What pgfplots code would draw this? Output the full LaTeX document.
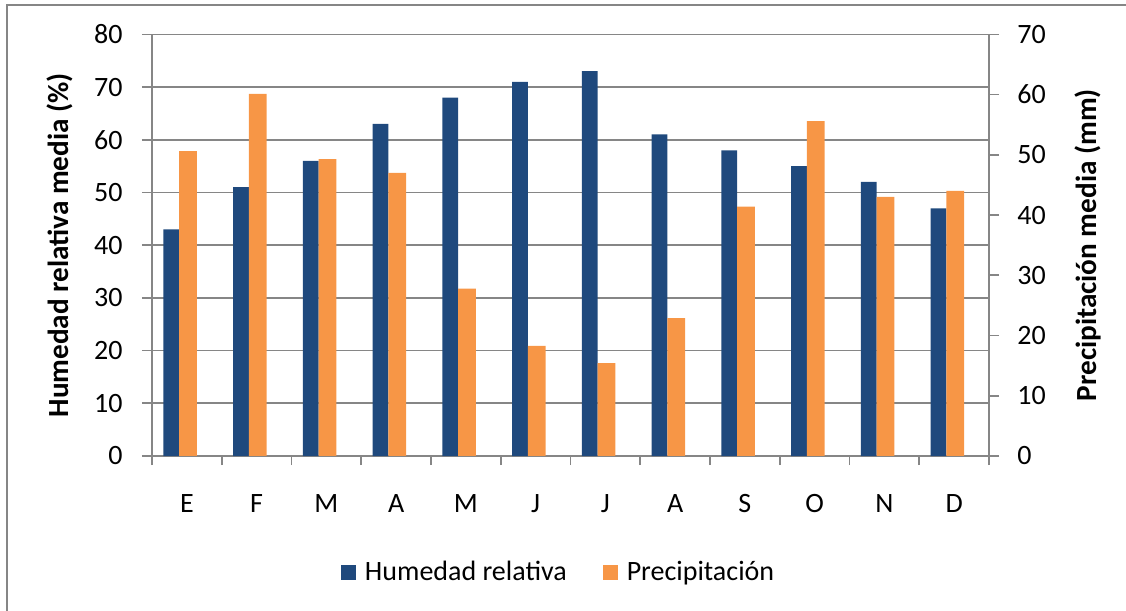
\documentclass[border=0pt]{standalone}
\usepackage{pgfplots}
\pgfplotsset{compat=1.18}
\usepackage{fontspec}
\setmainfont{Carlito}

\definecolor{humblue}{RGB}{31,73,125}
\definecolor{precorange}{RGB}{247,150,70}
\definecolor{axisgray}{RGB}{134,134,134}

\newcommand{\chartfont}{\fontsize{14}{16}\selectfont}
\newcommand{\labelfont}{\fontsize{14.6}{17}\selectfont\bfseries}

\pgfplotsset{
  sqlegend/.style={legend image code/.code={\fill[##1,/tikz/.cd] (0pt,-3.75pt) rectangle (7.5pt,3.75pt);}},
  common/.style={
    width=418.5pt, height=210.85pt, scale only axis,
    xmin=-0.5, xmax=11.5, ymin=0,
    tick align=outside,
    major tick length=5pt,
    axis line style={-, draw=axisgray, line width=0.8pt},
    every tick/.style={axisgray, line width=0.8pt},
    ticklabel style={font=\chartfont},
    /pgf/number format/assume math mode=true,
    label style={font=\labelfont},
  },
}

\begin{document}
\begin{tikzpicture}
% left axis: relative humidity, grid, month categories, legend
\begin{axis}[common, name=main,
  ymax=80, ytick={0,10,...,80},
  axis x line*=bottom, axis y line*=left,
  ymajorgrids, grid style={axisgray, line width=0.8pt},
  xtick={0,...,11},
  xticklabels={E,F,M,A,M,J,J,A,S,O,N,D},
  major x tick style={draw=none},
  minor xtick={-0.5,0.5,...,11.5},
  minor tick length=4.5pt,
  xticklabel style={anchor=base, yshift=-23pt},
  yticklabel style={anchor=east, inner sep=0pt, xshift=-9.5pt},
  ylabel={Humedad relativa media (\%)},
  ylabel style={at={(axis description cs:-0.1,0.5)}, anchor=base},
  legend columns=2,
  legend cell align=left,
  legend style={at={(axis description cs:0.2258,-0.2751)}, anchor=west,
    draw=none, fill=none, inner sep=0pt, outer sep=0pt, font=\chartfont,
    nodes={inner sep=0pt},
    /tikz/every odd column/.append style={column sep=4.5pt},
    /tikz/every even column/.append style={column sep=18pt}},
]
\addplot[ybar, bar width=7.8pt, bar shift=-7.8pt, fill=humblue, draw=none, sqlegend]
  coordinates {(0,43) (1,51) (2,56) (3,63) (4,68) (5,71) (6,73) (7,61) (8,58) (9,55) (10,52) (11,47)};
\addlegendentry{Humedad relativa}
\addlegendimage{fill=precorange, draw=none, sqlegend}
\addlegendentry{Precipitación}
\end{axis}

% right axis: mean precipitation
\begin{axis}[common,
  ymax=70, ytick={0,10,...,70},
  axis y line*=right, axis x line=none,
  yticklabel style={anchor=west, inner sep=0pt, xshift=9pt},
  ylabel={Precipitación media (mm)},
  ylabel style={at={(axis description cs:1.1287,0.5)}, anchor=base},
]
\addplot[ybar, bar width=8.85pt, bar shift=0.525pt, fill=precorange, draw=none]
  coordinates {(0,50.6) (1,60.1) (2,49.3) (3,47.0) (4,27.8) (5,18.3) (6,15.4) (7,22.9) (8,41.4) (9,55.6) (10,43.0) (11,44.0)};
\end{axis}

% chart frame
\draw[axisgray, line width=1pt]
  ([xshift=-72.65pt,yshift=-77.5pt]main.south west) --
  ([xshift=-72.65pt,yshift=225.65pt]main.south west) --
  ([xshift=487pt,yshift=225.65pt]main.south west);

\pgfresetboundingbox
\path[use as bounding box]
  ([xshift=-76pt,yshift=-77.5pt]main.south west) rectangle
  ([xshift=487pt,yshift=228pt]main.south west);
\end{tikzpicture}
\end{document}
